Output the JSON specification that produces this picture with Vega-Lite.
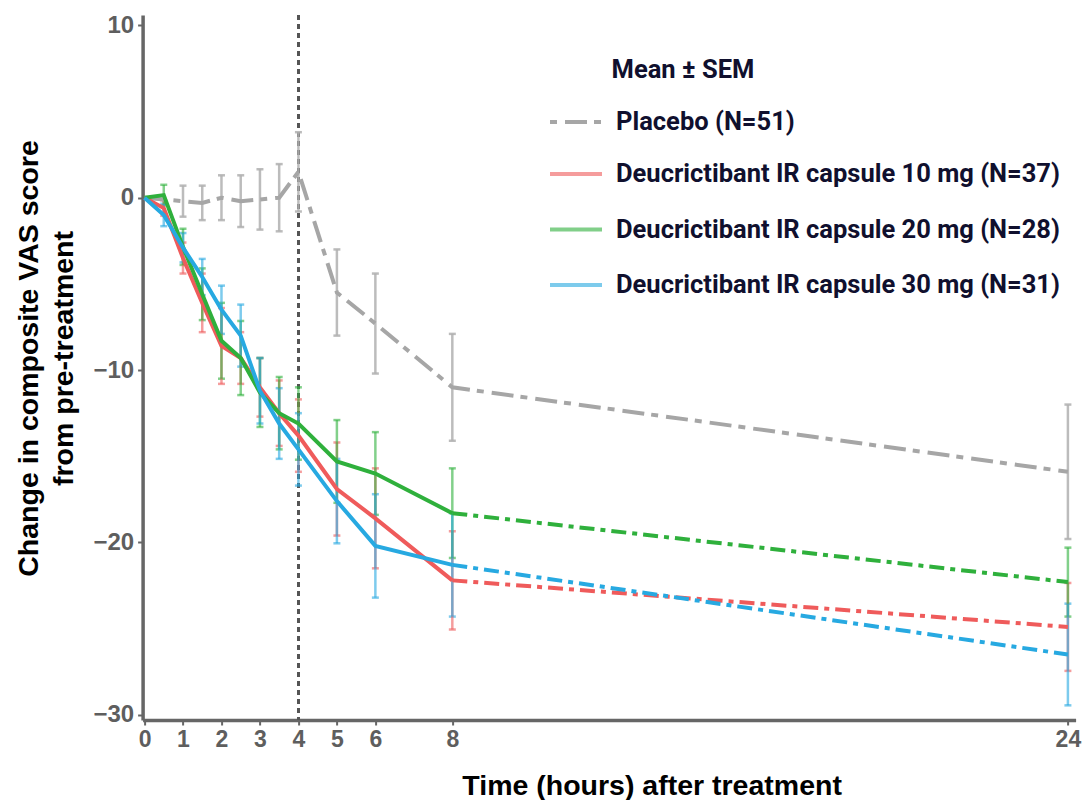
{
  "$schema": "https://vega.github.io/schema/vega-lite/v6.json",
  "width": 933,
  "height": 705,
  "autosize": {"type": "none"},
  "padding": {"left": 142.6, "top": 15, "right": 8.4, "bottom": 80},
  "background": "white",
  "title": {"text": "Mean ± SEM", "anchor": "start", "frame": "group", "dx": 469, "dy": 90, "offset": 0, "baseline": "alphabetic", "font": "Roboto", "fontSize": 25.5, "fontWeight": "bold", "color": "#10102e"},
  "config": {
    "view": {"stroke": null},
    "axis": {"grid": false, "domainColor": "#666666", "domainWidth": 3.5, "tickColor": "#666666", "tickWidth": 2, "tickSize": 5, "labelFont": "Liberation Sans", "labelFontWeight": "bold", "labelColor": "#5e5e5e", "labelFlush": false, "labelOverlap": false, "titleFont": "Liberation Sans", "titleFontWeight": "bold", "titleColor": "#000000"},
    "axisX": {"labelFontSize": 23, "labelPadding": 3, "titleFontSize": 28.5, "titleX": 509, "titleY": 74, "titleBaseline": "alphabetic", "titleAlign": "center"},
    "axisY": {"labelFontSize": 24, "labelPadding": 4, "titleFontSize": 28.5, "titleAngle": -90, "titleX": -128, "titleY": 343, "titleAlign": "center", "titleBaseline": "top", "titleLineHeight": 35}
  },
  "data": {"values": [
    {"group": "Placebo (N=51)", "time": 0, "mean": 0, "sem": 0},
    {"group": "Placebo (N=51)", "time": 1, "mean": -0.2, "sem": 0.9},
    {"group": "Placebo (N=51)", "time": 1.5, "mean": -0.3, "sem": 1.0},
    {"group": "Placebo (N=51)", "time": 2, "mean": 0.0, "sem": 1.3},
    {"group": "Placebo (N=51)", "time": 2.5, "mean": -0.2, "sem": 1.5},
    {"group": "Placebo (N=51)", "time": 3, "mean": -0.1, "sem": 1.75},
    {"group": "Placebo (N=51)", "time": 3.5, "mean": 0.0, "sem": 1.95},
    {"group": "Placebo (N=51)", "time": 4, "mean": 1.5, "sem": 2.3},
    {"group": "Placebo (N=51)", "time": 5, "mean": -5.5, "sem": 2.5},
    {"group": "Placebo (N=51)", "time": 6, "mean": -7.3, "sem": 2.9},
    {"group": "Placebo (N=51)", "time": 8, "mean": -11.0, "sem": 3.1},
    {"group": "Placebo (N=51)", "time": 24, "mean": -15.9, "sem": 3.9},
    {"group": "Deucrictibant IR capsule 10 mg (N=37)", "time": 0, "mean": 0, "sem": 0},
    {"group": "Deucrictibant IR capsule 10 mg (N=37)", "time": 0.5, "mean": -0.6, "sem": 0.45},
    {"group": "Deucrictibant IR capsule 10 mg (N=37)", "time": 1, "mean": -3.5, "sem": 0.9},
    {"group": "Deucrictibant IR capsule 10 mg (N=37)", "time": 1.5, "mean": -6.1, "sem": 1.7},
    {"group": "Deucrictibant IR capsule 10 mg (N=37)", "time": 2, "mean": -8.6, "sem": 2.2},
    {"group": "Deucrictibant IR capsule 10 mg (N=37)", "time": 2.5, "mean": -9.3, "sem": 1.5},
    {"group": "Deucrictibant IR capsule 10 mg (N=37)", "time": 3, "mean": -11.0, "sem": 1.7},
    {"group": "Deucrictibant IR capsule 10 mg (N=37)", "time": 3.5, "mean": -12.5, "sem": 1.9},
    {"group": "Deucrictibant IR capsule 10 mg (N=37)", "time": 4, "mean": -13.8, "sem": 2.1},
    {"group": "Deucrictibant IR capsule 10 mg (N=37)", "time": 5, "mean": -16.9, "sem": 2.7},
    {"group": "Deucrictibant IR capsule 10 mg (N=37)", "time": 6, "mean": -18.6, "sem": 2.9},
    {"group": "Deucrictibant IR capsule 10 mg (N=37)", "time": 8, "mean": -22.2, "sem": 2.85},
    {"group": "Deucrictibant IR capsule 10 mg (N=37)", "time": 24, "mean": -24.9, "sem": 2.55},
    {"group": "Deucrictibant IR capsule 20 mg (N=28)", "time": 0, "mean": 0, "sem": 0},
    {"group": "Deucrictibant IR capsule 20 mg (N=28)", "time": 0.5, "mean": 0.15, "sem": 0.6},
    {"group": "Deucrictibant IR capsule 20 mg (N=28)", "time": 1, "mean": -2.85, "sem": 1.05},
    {"group": "Deucrictibant IR capsule 20 mg (N=28)", "time": 1.5, "mean": -5.6, "sem": 1.5},
    {"group": "Deucrictibant IR capsule 20 mg (N=28)", "time": 2, "mean": -8.3, "sem": 2.2},
    {"group": "Deucrictibant IR capsule 20 mg (N=28)", "time": 2.5, "mean": -9.3, "sem": 2.15},
    {"group": "Deucrictibant IR capsule 20 mg (N=28)", "time": 3, "mean": -11.3, "sem": 2.0},
    {"group": "Deucrictibant IR capsule 20 mg (N=28)", "time": 3.5, "mean": -12.5, "sem": 2.1},
    {"group": "Deucrictibant IR capsule 20 mg (N=28)", "time": 4, "mean": -13.1, "sem": 2.1},
    {"group": "Deucrictibant IR capsule 20 mg (N=28)", "time": 5, "mean": -15.3, "sem": 2.4},
    {"group": "Deucrictibant IR capsule 20 mg (N=28)", "time": 6, "mean": -16.0, "sem": 2.4},
    {"group": "Deucrictibant IR capsule 20 mg (N=28)", "time": 8, "mean": -18.3, "sem": 2.6},
    {"group": "Deucrictibant IR capsule 20 mg (N=28)", "time": 24, "mean": -22.3, "sem": 2.0},
    {"group": "Deucrictibant IR capsule 30 mg (N=31)", "time": 0, "mean": 0, "sem": 0},
    {"group": "Deucrictibant IR capsule 30 mg (N=31)", "time": 0.5, "mean": -1.0, "sem": 0.65},
    {"group": "Deucrictibant IR capsule 30 mg (N=31)", "time": 1, "mean": -2.9, "sem": 0.85},
    {"group": "Deucrictibant IR capsule 30 mg (N=31)", "time": 1.5, "mean": -4.6, "sem": 1.05},
    {"group": "Deucrictibant IR capsule 30 mg (N=31)", "time": 2, "mean": -6.5, "sem": 1.4},
    {"group": "Deucrictibant IR capsule 30 mg (N=31)", "time": 2.5, "mean": -8.0, "sem": 1.8},
    {"group": "Deucrictibant IR capsule 30 mg (N=31)", "time": 3, "mean": -11.2, "sem": 1.9},
    {"group": "Deucrictibant IR capsule 30 mg (N=31)", "time": 3.5, "mean": -13.1, "sem": 2.05},
    {"group": "Deucrictibant IR capsule 30 mg (N=31)", "time": 4, "mean": -14.6, "sem": 2.1},
    {"group": "Deucrictibant IR capsule 30 mg (N=31)", "time": 5, "mean": -17.6, "sem": 2.45},
    {"group": "Deucrictibant IR capsule 30 mg (N=31)", "time": 6, "mean": -20.2, "sem": 3.0},
    {"group": "Deucrictibant IR capsule 30 mg (N=31)", "time": 8, "mean": -21.3, "sem": 3.0},
    {"group": "Deucrictibant IR capsule 30 mg (N=31)", "time": 24, "mean": -26.5, "sem": 2.95}
  ]},
  "layer": [
    {
      "mark": {"type": "rule", "color": "#555555", "strokeWidth": 2.5, "strokeDash": [5, 4]},
      "encoding": {"x": {"datum": 4, "type": "quantitative", "scale": {"domain": [-0.05, 24.2], "nice": false, "zero": false}, "axis": {"values": [0, 1, 2, 3, 4, 5, 6, 8, 24]}, "title": "Time (hours) after treatment"}}
    },
    {
      "transform": [{"filter": "datum.group === 'Placebo (N=51)' && datum.sem > 0"}],
      "mark": {"type": "errorbar", "ticks": true, "size": 7, "thickness": 2.5, "color": "#b0b0b0", "opacity": 0.85},
      "encoding": {
        "x": {"field": "time", "type": "quantitative", "scale": {"domain": [-0.05, 24.2], "nice": false, "zero": false}, "axis": {"values": [0, 1, 2, 3, 4, 5, 6, 8, 24]}, "title": "Time (hours) after treatment"},
        "y": {"field": "mean", "type": "quantitative", "scale": {"domain": [-30.3, 10.6], "nice": false, "zero": false}, "axis": {"values": [10, 0, -10, -20, -30]}, "title": ["Change in composite VAS score", "from pre-treatment"]},
        "yError": {"field": "sem"}
      }
    },
    {
      "transform": [{"filter": "datum.group !== 'Placebo (N=51)' && datum.sem > 0"}],
      "mark": {"type": "errorbar", "ticks": true, "size": 7, "thickness": 2.5, "opacity": 0.6},
      "encoding": {
        "x": {"field": "time", "type": "quantitative", "scale": {"domain": [-0.05, 24.2], "nice": false, "zero": false}, "axis": {"values": [0, 1, 2, 3, 4, 5, 6, 8, 24]}, "title": "Time (hours) after treatment"},
        "y": {"field": "mean", "type": "quantitative", "scale": {"domain": [-30.3, 10.6], "nice": false, "zero": false}, "axis": {"values": [10, 0, -10, -20, -30]}, "title": ["Change in composite VAS score", "from pre-treatment"]},
        "yError": {"field": "sem"},
        "color": {"field": "group", "type": "nominal", "scale": {"domain": ["Placebo (N=51)", "Deucrictibant IR capsule 10 mg (N=37)", "Deucrictibant IR capsule 20 mg (N=28)", "Deucrictibant IR capsule 30 mg (N=31)"], "range": ["#a6a6a6", "#ef5b5b", "#2fb03c", "#27a9e1"]}}
      }
    },
    {
      "transform": [{"filter": "datum.group === 'Placebo (N=51)'"}],
      "mark": {"type": "line", "strokeWidth": 4, "color": "#a6a6a6"},
      "encoding": {
        "x": {"field": "time", "type": "quantitative", "scale": {"domain": [-0.05, 24.2], "nice": false, "zero": false}, "axis": {"values": [0, 1, 2, 3, 4, 5, 6, 8, 24]}, "title": "Time (hours) after treatment"},
        "y": {"field": "mean", "type": "quantitative", "scale": {"domain": [-30.3, 10.6], "nice": false, "zero": false}, "axis": {"values": [10, 0, -10, -20, -30]}, "title": ["Change in composite VAS score", "from pre-treatment"]},
        "strokeDash": {"field": "group", "type": "nominal", "scale": {"domain": ["Placebo (N=51)"], "range": [[22, 7, 7, 8]]}, "legend": {"orient": "none", "legendX": 405.4, "legendY": 79, "title": null, "padding": 0, "symbolType": "stroke", "symbolSize": 2704, "symbolStrokeColor": "#a6a6a6", "symbolStrokeWidth": 4, "symbolDashOffset": 29, "labelFont": "Roboto", "labelFontWeight": "bold", "labelFontSize": 25.5, "labelColor": "#10102e", "labelOffset": 12, "labelLimit": 700}}
      }
    },
    {
      "transform": [{"filter": "datum.group !== 'Placebo (N=51)' && datum.time >= 8"}],
      "mark": {"type": "line", "strokeWidth": 4, "strokeDash": [15, 6, 5, 6]},
      "encoding": {
        "x": {"field": "time", "type": "quantitative", "scale": {"domain": [-0.05, 24.2], "nice": false, "zero": false}, "axis": {"values": [0, 1, 2, 3, 4, 5, 6, 8, 24]}, "title": "Time (hours) after treatment"},
        "y": {"field": "mean", "type": "quantitative", "scale": {"domain": [-30.3, 10.6], "nice": false, "zero": false}, "axis": {"values": [10, 0, -10, -20, -30]}, "title": ["Change in composite VAS score", "from pre-treatment"]},
        "color": {"field": "group", "type": "nominal"}
      }
    },
    {
      "transform": [{"filter": "datum.group !== 'Placebo (N=51)' && datum.time <= 8"}],
      "mark": {"type": "line", "strokeWidth": 4},
      "encoding": {
        "x": {"field": "time", "type": "quantitative", "scale": {"domain": [-0.05, 24.2], "nice": false, "zero": false}, "axis": {"values": [0, 1, 2, 3, 4, 5, 6, 8, 24]}, "title": "Time (hours) after treatment"},
        "y": {"field": "mean", "type": "quantitative", "scale": {"domain": [-30.3, 10.6], "nice": false, "zero": false}, "axis": {"values": [10, 0, -10, -20, -30]}, "title": ["Change in composite VAS score", "from pre-treatment"]},
        "color": {"field": "group", "type": "nominal", "scale": {"domain": ["Placebo (N=51)", "Deucrictibant IR capsule 10 mg (N=37)", "Deucrictibant IR capsule 20 mg (N=28)", "Deucrictibant IR capsule 30 mg (N=31)"], "range": ["#a6a6a6", "#ef5b5b", "#2fb03c", "#27a9e1"]}, "legend": {"values": ["Deucrictibant IR capsule 10 mg (N=37)", "Deucrictibant IR capsule 20 mg (N=28)", "Deucrictibant IR capsule 30 mg (N=31)"], "orient": "none", "legendX": 405.4, "legendY": 131, "title": null, "padding": 0, "rowPadding": 13.5, "symbolType": "stroke", "symbolSize": 2704, "symbolStrokeWidth": 4, "symbolDash": [1, 0], "labelFont": "Roboto", "labelFontWeight": "bold", "labelFontSize": 25.5, "labelColor": "#10102e", "labelOffset": 12, "labelLimit": 700}}
      }
    }
  ]
}
